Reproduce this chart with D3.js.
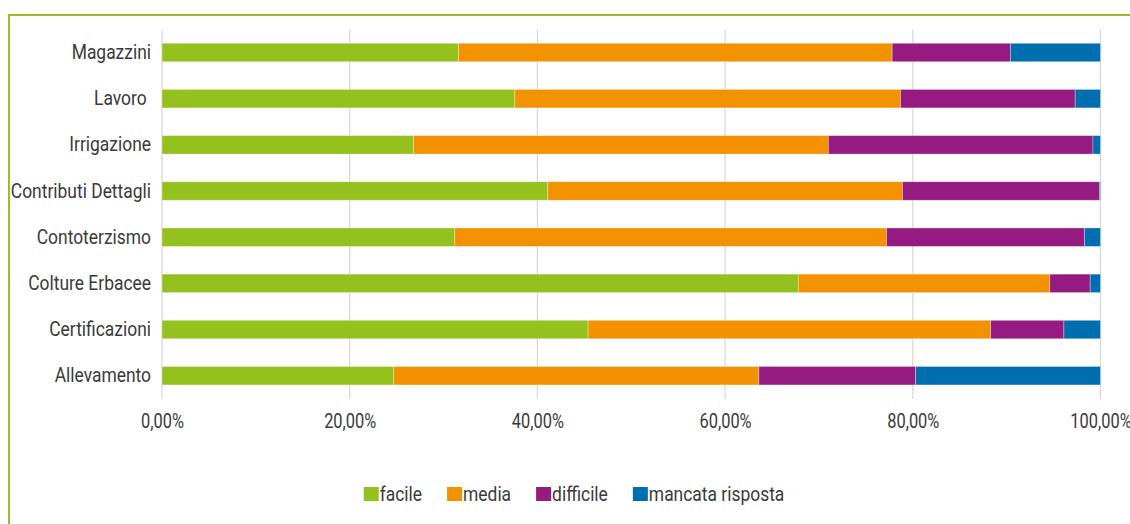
<!DOCTYPE html>
<html>
<head>
<meta charset="utf-8">
<script src="https://cdn.jsdelivr.net/npm/d3@7"></script>
<style>
  html, body { margin: 0; padding: 0; background: #fff; }
  svg text { font-family: 'Roboto', 'Liberation Sans', sans-serif; fill: #3a3a3a; }
</style>
</head>
<body>
<div id="chart"></div>
<script>
// categories, top to bottom
const categories = ['Magazzini', 'Lavoro ', 'Irrigazione', 'Contributi Dettagli', 'Contoterzismo', 'Colture Erbacee', 'Certificazioni', 'Allevamento'];

// series values (%)
const facile = [31.6, 37.6, 26.8, 41.1, 31.2, 67.8, 45.4, 24.7];
const media = [46.2, 41.1, 44.2, 37.8, 46.0, 26.8, 42.9, 38.9];
const difficile = [12.6, 18.6, 28.2, 21.0, 21.1, 4.3, 7.8, 16.7];
const mancata = [9.6, 2.7, 0.8, 0.1, 1.7, 1.1, 3.9, 19.7];

const seriesNames = ['facile', 'media', 'difficile', 'mancata risposta'];
const xTicks = [0, 20, 40, 60, 80, 100];

const colors = ['#95c11f', '#f39200', '#951b81', '#006eaf'];

const width = 1130;
const height = 524;
const margin = { top: 29.4, right: 29.5, bottom: 125.2, left: 162 };
const fontSize = 20.5;

// the reference uses a condensed face, so squeeze Roboto horizontally
const squeezeY = 0.85;
const squeezeX = 0.8;
const squeezeLegend = 0.85;

const it = d3.formatLocale({ decimal: ',', thousands: '.', grouping: [3], currency: ['€', ''] });
const fmt = it.format('.2f');

const rows = categories.map((c, i) => ({
  cat: c,
  facile: facile[i],
  media: media[i],
  difficile: difficile[i],
  'mancata risposta': mancata[i],
}));

const stack = d3.stack().keys(seriesNames)(rows);

const x = d3.scaleLinear()
  .domain([0, 100])
  .range([margin.left, width - margin.right]);

const y = d3.scaleBand()
  .domain(categories)
  .range([margin.top, height - margin.bottom])
  .paddingInner(0.6)
  .paddingOuter(0.3);

const svg = d3.select('#chart')
  .append('svg')
  .attr('width', width)
  .attr('height', height);

// outer frame (left + top green line)
svg.append('path')
  .attr('d', `M 9 ${height} L 9 15 L ${width} 15`)
  .attr('fill', 'none')
  .attr('stroke', '#95c11f')
  .attr('stroke-width', 2)
  .attr('shape-rendering', 'crispEdges');

// grid
const gridTop = margin.top;
const gridBottom = height - margin.bottom;
svg.append('g')
  .attr('class', 'grid')
  .selectAll('line')
  .data(xTicks)
  .enter()
  .append('line')
  .attr('x1', d => x(d))
  .attr('x2', d => x(d))
  .attr('y1', gridTop)
  .attr('y2', gridBottom)
  .attr('stroke', '#d9d9d9')
  .attr('stroke-width', 1.3);

// bars
svg.append('g')
  .selectAll('g')
  .data(stack)
  .enter()
  .append('g')
  .attr('fill', (d, i) => colors[i])
  .selectAll('rect')
  .data(d => d)
  .enter()
  .append('rect')
  .attr('x', d => x(d[0]))
  .attr('width', d => x(d[1]) - x(d[0]))
  .attr('y', d => y(d.data.cat))
  .attr('height', y.bandwidth())
  .attr('stroke', '#ffffff')
  .attr('stroke-opacity', 0.45)
  .attr('stroke-width', 0.7);

// x axis
const xAxis = d3.axisBottom(x)
  .tickValues(xTicks)
  .tickSize(0)
  .tickPadding(0)
  .tickFormat(d => `${fmt(d)}%`);

const gx = svg.append('g')
  .attr('transform', 'translate(0,413)')
  .call(xAxis);
gx.select('.domain').remove();
gx.selectAll('text')
  .attr('font-size', fontSize)
  .attr('font-family', null)
  .attr('fill', '#3a3a3a')
  .attr('transform', `scale(${squeezeX},1)`);

// y axis
const yAxis = d3.axisLeft(y)
  .tickSize(0);

const gy = svg.append('g')
  .attr('transform', `translate(${margin.left},0)`)
  .call(yAxis);
gy.select('.domain').remove();
gy.selectAll('text')
  .attr('x', 0)
  .attr('font-size', fontSize)
  .attr('font-family', null)
  .attr('fill', '#3a3a3a')
  .attr('transform', `translate(-11,0) scale(${squeezeY},1)`)
  .style('white-space', 'pre');

// legend
const legend = svg.append('g').attr('class', 'legend');
const items = legend.selectAll('g')
  .data(seriesNames)
  .enter()
  .append('g');
items.append('rect')
  .attr('width', 15)
  .attr('height', 14)
  .attr('y', -7)
  .attr('fill', (d, i) => colors[i]);
items.append('text')
  .attr('dy', '0.35em')
  .attr('font-size', fontSize)
  .attr('fill', '#333')
  .attr('transform', `translate(16,0) scale(${squeezeLegend},1)`)
  .text(d => d);

let offset = 0;
items.each(function () {
  const w = this.getBBox().width;
  d3.select(this).attr('transform', `translate(${offset},0)`);
  offset += w + 25;
});
const total = offset - 25;
legend.attr('transform', `translate(${574 - total / 2},494)`);
</script>
</body>
</html>
